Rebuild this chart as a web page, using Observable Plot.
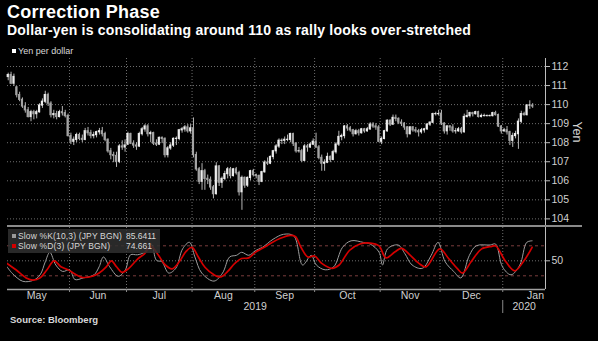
<!DOCTYPE html>
<html><head><meta charset="utf-8">
<script src="https://cdn.jsdelivr.net/npm/d3@7"></script>
<script src="https://cdn.jsdelivr.net/npm/@observablehq/plot@0.6"></script>
<style>
html,body{margin:0;padding:0;background:#000;}
#chart{position:relative;width:598px;height:341px;overflow:hidden;background:#000;font-family:"Liberation Sans",Arial,sans-serif;color:#d0d0d0;}
.title{position:absolute;left:7px;top:2px;font-weight:bold;font-size:18px;letter-spacing:0.25px;color:#fff;white-space:nowrap;}
.subtitle{position:absolute;left:7px;top:22px;font-weight:bold;font-size:14px;letter-spacing:0.2px;color:#fff;white-space:nowrap;}
.legend{position:absolute;left:12px;top:46px;font-size:9px;color:#d8d8d8;white-space:nowrap;}
.sw{display:inline-block;width:4px;height:4px;margin-right:2px;vertical-align:1px;}
#upper{position:absolute;left:0;top:56px;}
#lower{position:absolute;left:0;top:226px;}
.sep{position:absolute;left:7px;top:225px;width:575px;height:2px;background:#8a8a8a;}
.stoch{position:absolute;left:8px;top:229px;width:152px;height:24px;background:rgba(48,48,48,0.85);font-size:8.5px;letter-spacing:0.15px;color:#d8d8d8;}
.stoch div{position:absolute;left:4px;white-space:nowrap;}
.stoch .v{position:absolute;left:114px;letter-spacing:0;}
.source{position:absolute;left:10px;top:314px;font-weight:bold;font-size:9.5px;color:#d8d8d8;}
</style>
</head><body>
<div id="chart">
  <div class="title">Correction Phase</div>
  <div class="subtitle">Dollar-yen is consolidating around 110 as rally looks over-stretched</div>
  <div class="legend"><span class="sw" style="background:#fff"></span>Yen per dollar</div>
  <div id="upper"></div>
  <div class="sep"></div>
  <div id="lower"></div>
  <div class="stoch">
    <div style="top:2px"><span class="sw" style="background:#9a9a9a"></span>Slow %K(10,3) (JPY BGN)<span class="v">85.6411</span></div>
    <div style="top:12px"><span class="sw" style="background:#d40000"></span>Slow %D(3) (JPY BGN)<span class="v">74.661</span></div>
  </div>
  <div class="source">Source: Bloomberg</div>
</div>
<script>
// ---- calendar (trading days, weekdays) ----
const firstDay = "2019-05-01", lastDay = "2020-01-31", firstCandle = "2019-05-02";
const days = d3.utcDays(new Date(firstDay), d3.utcDay.offset(new Date(lastDay), 1)).filter(d => d.getUTCDay() % 6 !== 0);

// ---- USD/JPY daily candles from 2019-05-02 (yen per dollar) ----
const open = [
111.45,111.55,111.1,110.9,110.5,110.25,109.9,109.7,109.35,109.6,
109.5,109.6,109.95,110.15,110.5,110.05,109.45,109.5,109.35,109.6,
109.55,109.4,108.35,108.05,108.15,108.4,108.2,108.15,108.6,108.5,
108.35,108.4,108.55,108.6,108.45,108.15,107.55,107.35,107.3,107.0,
107.8,107.75,107.9,108.45,107.95,107.85,107.8,108.45,108.7,108.85,
108.45,108.5,107.95,107.9,108.25,108.2,107.35,107.7,107.85,108.2,
108.2,108.65,108.7,108.8,108.6,108.75,107.35,106.6,105.95,106.5,
106.1,106.05,105.65,105.3,106.75,105.9,106.1,106.35,106.6,106.25,
106.6,106.4,105.4,106.15,105.75,106.15,106.5,106.3,106.25,105.95,
106.45,106.95,106.9,107.25,107.55,107.8,108.1,108.1,108.15,108.15,
108.45,107.95,107.55,107.55,107.05,107.8,107.75,107.9,108.05,107.75,
107.2,106.9,106.95,107.25,107.1,107.5,107.9,108.3,108.35,108.85,
108.75,108.65,108.45,108.6,108.5,108.7,108.6,108.7,108.95,108.85,
108.8,108.05,108.2,108.6,109.15,108.95,109.3,109.25,109.05,109.0,
108.8,108.45,108.8,108.65,108.6,108.55,108.65,108.7,108.95,109.05,
109.5,109.5,109.5,109.0,108.6,108.85,108.8,108.6,108.6,108.7,
108.55,109.35,109.4,109.55,109.5,109.6,109.35,109.4,109.4,109.4,
109.4,109.55,109.45,108.85,108.6,108.65,108.55,108.1,108.35,108.45,
109.1,109.5,109.45,109.95,109.95];
const high = [
111.65,111.7,111.6,110.95,110.65,110.35,110.1,109.85,109.7,109.7,
109.7,110.05,110.3,110.7,110.6,110.15,109.7,109.65,109.7,109.9,
109.7,109.5,108.5,108.3,108.5,108.5,108.4,108.75,108.8,108.65,
108.55,108.6,108.75,108.8,108.55,108.2,107.7,107.5,107.5,107.9,
108.1,108.15,108.55,108.5,108.1,108.0,108.55,108.8,108.95,108.95,
108.6,108.55,108.15,108.3,108.3,108.25,107.8,108.0,108.25,108.3,
108.7,108.8,108.9,108.95,108.95,109.3,107.5,106.7,106.9,106.6,
106.3,106.2,105.75,106.95,106.8,106.2,106.5,106.7,106.7,106.65,
106.7,106.5,106.25,106.2,106.2,106.55,106.6,106.35,106.3,106.5,
107.05,107.2,107.3,107.6,107.9,108.2,108.2,108.3,108.4,108.5,
108.5,108.0,107.75,107.65,107.9,107.9,108.0,108.2,108.5,107.85,
107.35,107.1,107.45,107.3,107.6,108.0,108.6,108.45,108.9,108.95,
108.85,108.7,108.7,108.7,108.75,108.75,108.8,109.05,109.05,109.0,
108.9,108.3,108.65,109.2,109.2,109.45,109.45,109.3,109.2,109.05,
108.85,108.85,108.85,108.8,108.7,108.75,108.75,109.0,109.1,109.55,
109.6,109.7,109.7,109.05,108.9,108.9,108.95,108.75,108.8,108.8,
109.5,109.7,109.6,109.6,109.65,109.65,109.5,109.5,109.45,109.45,
109.6,109.65,109.5,108.9,108.75,108.85,108.6,108.5,108.6,109.25,
109.65,109.6,110.0,110.2,110.05];
const low = [
111.25,111.05,110.95,110.35,110.15,109.8,109.55,109.3,109.1,109.2,
109.25,109.55,109.8,110.05,109.9,109.3,109.25,109.2,109.3,109.4,
109.3,108.3,107.9,107.85,108.0,108.1,108.0,108.1,108.35,108.2,
108.2,108.25,108.4,108.3,108.05,107.45,107.1,106.95,106.7,106.9,
107.6,107.5,107.85,107.9,107.7,107.6,107.75,108.35,108.55,108.3,
108.0,107.85,107.8,107.85,107.95,107.2,107.2,107.6,107.75,107.85,
108.1,108.5,108.55,108.5,108.45,107.2,106.5,105.8,105.5,105.5,
105.8,105.5,105.05,105.25,105.7,105.6,106.0,106.1,106.1,106.2,
106.3,105.2,104.45,105.6,105.65,106.0,106.2,106.1,105.75,105.9,
106.4,106.8,106.85,107.1,107.4,107.7,107.9,107.9,108.05,108.0,
107.8,107.45,107.45,106.95,107.0,107.5,107.7,107.85,107.7,107.1,
106.5,106.5,106.9,106.95,107.05,107.4,107.8,108.1,108.2,108.6,
108.55,108.3,108.4,108.35,108.45,108.5,108.55,108.65,108.75,108.65,
108.0,107.9,108.15,108.55,108.85,108.9,109.1,108.95,108.85,108.65,
108.25,108.4,108.55,108.5,108.3,108.45,108.5,108.65,108.85,109.0,
109.4,109.4,108.9,108.45,108.4,108.6,108.5,108.45,108.55,108.45,
108.5,109.3,109.3,109.35,109.45,109.3,109.3,109.35,109.35,109.35,
109.35,109.4,108.8,108.45,108.55,108.4,107.85,107.75,108.2,107.65,
109.0,109.4,109.4,109.75,109.8];
const close = [
111.55,111.1,111.45,110.5,110.25,109.9,109.7,109.35,109.6,109.5,
109.6,109.95,110.15,110.5,110.05,109.45,109.5,109.35,109.6,109.55,
109.4,108.35,108.05,108.15,108.4,108.2,108.15,108.6,108.5,108.35,
108.4,108.55,108.6,108.45,108.15,107.55,107.35,107.3,107.0,107.8,
107.75,107.85,108.45,107.95,107.85,107.8,108.45,108.7,108.85,108.45,
108.5,107.95,107.9,108.25,108.2,107.35,107.7,107.85,108.2,108.2,
108.65,108.7,108.8,108.6,108.75,107.35,106.6,105.95,106.5,106.1,
106.05,105.65,105.3,106.75,105.9,106.1,106.35,106.6,106.25,106.6,
106.4,105.4,106.15,105.75,106.15,106.5,106.3,106.25,105.95,106.45,
106.95,106.9,107.25,107.55,107.8,108.1,108.1,108.15,108.15,108.45,
107.95,107.55,107.55,107.05,107.8,107.75,107.9,108.05,107.75,107.2,
106.9,106.95,107.25,107.1,107.5,107.9,108.3,108.35,108.85,108.75,
108.65,108.45,108.6,108.5,108.7,108.6,108.7,108.95,108.85,108.8,
108.05,108.2,108.6,109.15,108.95,109.3,109.25,109.05,109.0,108.8,
108.45,108.8,108.65,108.6,108.55,108.65,108.7,108.95,109.05,109.5,
109.5,109.5,109.0,108.6,108.85,108.8,108.6,108.6,108.7,108.55,
109.35,109.4,109.55,109.5,109.6,109.35,109.4,109.4,109.4,109.4,
109.55,109.45,108.85,108.6,108.65,108.55,108.1,108.35,108.45,109.1,
109.5,109.45,109.95,109.95,109.9];

// ---- Slow stochastic (position = trading-day number from 2019-05-01) ----
const kDay = [0.6,2.4,6.1,9.8,12.2,14,15.6,17.7,20.1,22.6,24.4,27.4,31.1,32.9,34.4,36.6,39.6,42.1,43.9,46.3,48.8,51.2,53,54.9,57.3,59.8,62.2,64.6,66.5,68.9,73.2,76.2,78.7,81.1,82.9,85.4,87.8,90.2,93.9,97.6,101.2,104.3,107.3,109.1,112.2,115.2,118.3,121.3,125.6,128,131.1,132.3,134.1,137.8,140.2,142.7,146.3,149.4,151.8,154.3,157.3,159.8,162.8,165.2,170.1,172,174.4,177.4,180.5,182.9,184.8];
const kVal = [38,25,9,11,22,48,67,41.6,28.7,32,12.6,15.8,22,38,57.7,38,19,32,62,62,67,83.5,51,48,25.5,35,74,87,57.7,25.5,9.4,25.5,57.7,61,67,61,70.6,77,93,103,99.7,41.6,61,41.6,32,38,77,90,86.8,83.5,67.4,41.6,74,81.6,64,41.6,35,61,86.8,48,28.7,15.8,61,80,81.6,83.5,38,22,41.6,86.8,90];
const dDay = [0.6,3.7,7.3,9.8,12.2,14.6,17.1,19.5,22,24.4,26.8,30.5,32.9,35.4,37.2,39,40.9,43.3,46.3,48.8,51.2,53.7,56.1,58.5,61,63.4,65.5,67.7,70.1,73.2,75.6,78,80.5,82.9,85.4,87.8,90.2,92.7,96.3,100,101.8,103.7,106.1,108.5,111,114.6,117.1,120.7,124.4,128,131.1,133.5,136.6,139,142.1,145.1,147.6,152.4,155.5,158.5,160.4,163.4,167.1,170.7,172,175.6,178.7,181.7,184.8];
const dVal = [44.8,32,15.8,11.3,15.8,32,50,38,32,23.5,17,19,25.5,38,50,38,27,35,53,64,79,61,41.6,34,48,68.7,77,57.7,36.5,22,17.7,28.7,44.8,54.5,55.8,67.4,75,83.5,94.5,101,98.4,77,57.7,59.7,44.8,35,41.6,70.6,83.5,85.5,80,55.8,67.4,75,61,44.8,38,73.9,54.5,35,25.5,48,73.9,79,80,48,30,48,77];

const yTicks = [104,105,106,107,108,109,110,111,112];
const stochTicks = [50];
const stochBands = [80, 20];

// ---- derived tables ----
const dayIndex = s => days.findIndex(d => +d === +new Date(s));
const c0 = dayIndex(firstCandle);
const candles = close.map((c, k) => ({i: c0 + k, open: open[k], high: high[k], low: low[k], close: c}));
const kPts = kDay.map((x, j) => ({x, y: kVal[j]}));
const dPts = dDay.map((x, j) => ({x, y: dVal[j]}));

// month boundaries (between last and first trading day) and centres
const months = d3.groups(days.map((d, i) => ({d, i})), o => d3.utcMonth.floor(o.d).getTime());
const monthInfo = months.map(([m, arr]) => ({m: new Date(m), start: arr[0].i - 0.5, end: arr[arr.length - 1].i + 0.5}));
const monthBounds = monthInfo.slice(1).map(o => o.start);
const monthCenters = monthInfo.map(o => (o.start + o.end) / 2);
const monthLabel = new Map(monthInfo.map(o => [(o.start + o.end) / 2, d3.utcFormat("%b")(o.m)]));
const yearBound = monthInfo.find(o => o.m.getUTCFullYear() === 2020).start;

const xMin = 0.75, xMax = 189.5;
const yearLabels = [{x: (xMin + yearBound) / 2, label: "2019"}, {x: (yearBound + xMax) / 2, label: "2020"}];

const baseStyle = {background: "transparent", color: "#d0d0d0", fontFamily: "Liberation Sans, Arial, sans-serif", fontSize: "10px", overflow: "visible"};
const dotted = {stroke: "#6e6e6e", strokeDasharray: "1,2"};

const upper = Plot.plot({
  width: 598, height: 172, marginLeft: 7, marginRight: 53, marginTop: 2, marginBottom: 2,
  style: baseStyle,
  x: {domain: [xMin, xMax], axis: null},
  y: {domain: [103.6, 112.42]},
  marks: [
    Plot.ruleY(yTicks, dotted),
    Plot.ruleX(monthBounds, dotted),
    Plot.ruleX(candles, {x: "i", y1: "low", y2: "high", stroke: "#b5b5b5", strokeWidth: 1}),
    Plot.rect(candles, {x1: d => d.i - 0.38, x2: d => d.i + 0.38, y1: "open", y2: "close",
      fill: d => d.close >= d.open ? "#ececec" : "#a4a4a4", insetTop: -0.6, insetBottom: -0.6}),
    Plot.ruleX([xMax], {stroke: "#bdbdbd"}),
    Plot.axisY(yTicks, {anchor: "right", tickSize: 4, tickPadding: 2, label: null, stroke: "#bdbdbd", fontSize: 10.5}),
    Plot.text(["Yen"], {frameAnchor: "right", rotate: 90, dx: 31, fontSize: 12.5, fill: "#d0d0d0"})
  ]
});
document.getElementById("upper").append(upper);

const lower = Plot.plot({
  width: 598, height: 100, marginLeft: 7, marginRight: 53, marginTop: 1, marginBottom: 37,
  style: baseStyle,
  x: {domain: [xMin, xMax]},
  y: {domain: [-7.4, 116.6]},
  marks: [
    Plot.ruleY(stochTicks, dotted),
    Plot.ruleY(stochBands, {stroke: "#7a3c3c", strokeDasharray: "3,3"}),
    Plot.ruleX(monthBounds, dotted),
    Plot.line(kPts, {x: "x", y: "y", stroke: "#9c9c9c", strokeWidth: 1, curve: "catmull-rom", clip: true}),
    Plot.line(dPts, {x: "x", y: "y", stroke: "#d40000", strokeWidth: 1.7, curve: "catmull-rom", clip: true}),
    Plot.ruleX([xMax], {stroke: "#bdbdbd"}),
    Plot.ruleY([-7.4], {stroke: "#a0a0a0", strokeWidth: 1.5}),
    Plot.axisY(stochTicks, {anchor: "right", tickSize: 4, tickPadding: 2, label: null, stroke: "#bdbdbd", fontSize: 10.5}),
    Plot.axisX(monthCenters, {tickSize: 0, tickPadding: 2, tickFormat: v => monthLabel.get(v), label: null, fontSize: 10.5}),
    Plot.axisX(monthBounds, {tickSize: 3, tickFormat: () => "", label: null, stroke: "#888"}),
    Plot.axisX([yearBound], {tickSize: 13, dy: 11, tickFormat: () => "", label: null, stroke: "#888"}),
    Plot.text(yearLabels, {x: "x", text: "label", frameAnchor: "bottom", dy: 20, fill: "#d0d0d0", fontSize: 10.5})
  ]
});
document.getElementById("lower").append(lower);
</script>
</body></html>
